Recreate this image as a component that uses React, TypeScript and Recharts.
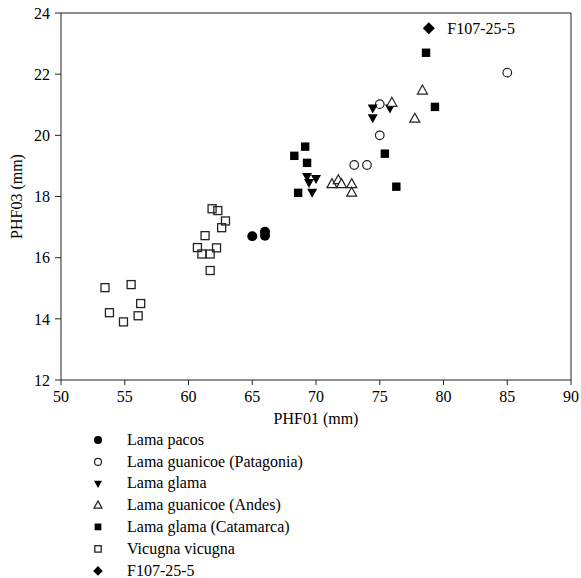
import { ScatterChart, Scatter, XAxis, YAxis, ReferenceLine, Legend, LabelList } from 'recharts';

// values (PHF01 mm, PHF03 mm)
const lamaPacos = [
  { x: 65.0, y: 16.7 },
  { x: 66.0, y: 16.85 },
  { x: 66.0, y: 16.72 },
];
const guanicoePatagonia = [
  { x: 75.0, y: 20.0 },
  { x: 73.0, y: 19.03 },
  { x: 74.0, y: 19.03 },
  { x: 75.0, y: 21.02 },
  { x: 85.0, y: 22.05 },
];
const lamaGlama = [
  { x: 69.3, y: 18.64 },
  { x: 70.0, y: 18.57 },
  { x: 69.45, y: 18.44 },
  { x: 69.7, y: 18.12 },
  { x: 74.45, y: 20.88 },
  { x: 74.45, y: 20.56 },
  { x: 75.8, y: 20.88 },
];
const guanicoeAndes = [
  { x: 71.25, y: 18.42 },
  { x: 71.75, y: 18.55 },
  { x: 72.0, y: 18.42 },
  { x: 72.8, y: 18.42 },
  { x: 72.8, y: 18.14 },
  { x: 75.95, y: 21.08 },
  { x: 78.35, y: 21.48 },
  { x: 77.75, y: 20.56 },
];
const glamaCatamarca = [
  { x: 69.15, y: 19.63 },
  { x: 68.3, y: 19.33 },
  { x: 69.3, y: 19.1 },
  { x: 68.6, y: 18.12 },
  { x: 75.4, y: 19.4 },
  { x: 76.3, y: 18.32 },
  { x: 78.63, y: 22.7 },
  { x: 79.33, y: 20.93 },
];
const vicugna = [
  { x: 61.85, y: 17.6 },
  { x: 62.3, y: 17.54 },
  { x: 62.9, y: 17.2 },
  { x: 62.6, y: 16.98 },
  { x: 61.3, y: 16.72 },
  { x: 60.7, y: 16.33 },
  { x: 61.05, y: 16.12 },
  { x: 61.7, y: 16.12 },
  { x: 62.2, y: 16.32 },
  { x: 61.7, y: 15.58 },
  { x: 53.45, y: 15.02 },
  { x: 55.5, y: 15.12 },
  { x: 56.25, y: 14.5 },
  { x: 53.8, y: 14.2 },
  { x: 54.9, y: 13.9 },
  { x: 56.05, y: 14.1 },
];
const f107 = [{ x: 78.85, y: 23.5, label: 'F107-25-5' }];

const xTicks = [50, 55, 60, 65, 70, 75, 80, 85, 90];
const yTicks = [12, 14, 16, 18, 20, 22, 24];

const FONT = '"Liberation Serif", "Times New Roman", serif';
const INK = '#222';

type Kind = 'dot' | 'ring' | 'down' | 'up' | 'box' | 'openbox' | 'diamond';

const Marker = ({ kind, cx, cy, k = 1 }: { kind: Kind; cx: number; cy: number; k?: number }) => {
  switch (kind) {
    case 'dot':
      return <circle cx={cx} cy={cy} r={5 * k} fill="#000" />;
    case 'ring':
      return <circle cx={cx} cy={cy} r={4.3 * k} fill="#fff" stroke={INK} strokeWidth={1.2} />;
    case 'down':
      return <path d={`M${cx - 5 * k},${cy - 4 * k} L${cx + 5 * k},${cy - 4 * k} L${cx},${cy + 5 * k} Z`} fill="#000" />;
    case 'up':
      return (
        <path
          d={`M${cx},${cy - 5 * k} L${cx + 5 * k},${cy + 4 * k} L${cx - 5 * k},${cy + 4 * k} Z`}
          fill="#fff"
          stroke={INK}
          strokeWidth={1.2}
        />
      );
    case 'box':
      return <rect x={cx - 4.2 * k} y={cy - 4.2 * k} width={8.4 * k} height={8.4 * k} fill="#000" />;
    case 'openbox':
      return (
        <rect x={cx - 4 * k} y={cy - 4 * k} width={8 * k} height={8 * k} fill="#fff" fillOpacity={0} stroke={INK} strokeWidth={1.3} />
      );
    case 'diamond':
      return <path d={`M${cx},${cy - 6 * k} L${cx + 6 * k},${cy} L${cx},${cy + 6 * k} L${cx - 6 * k},${cy} Z`} fill="#000" />;
  }
  return null;
};

const shapeOf = (kind: Kind) => (props: any) => <Marker kind={kind} cx={props.cx} cy={props.cy} />;

const series: { name: string; data: any[]; kind: Kind }[] = [
  { name: 'Lama pacos', data: lamaPacos, kind: 'dot' },
  { name: 'Lama guanicoe (Patagonia)', data: guanicoePatagonia, kind: 'ring' },
  { name: 'Lama glama', data: lamaGlama, kind: 'down' },
  { name: 'Lama guanicoe (Andes)', data: guanicoeAndes, kind: 'up' },
  { name: 'Lama glama (Catamarca)', data: glamaCatamarca, kind: 'box' },
  { name: 'Vicugna vicugna', data: vicugna, kind: 'openbox' },
  { name: 'F107-25-5', data: f107, kind: 'diamond' },
];

const renderLegend = () => (
  <div style={{ fontFamily: FONT, fontSize: 16, color: '#000' }}>
    {series.map((s) => (
      <div key={s.name} style={{ display: 'flex', alignItems: 'center', height: 21.8 }}>
        <svg width={110} height={21.8} style={{ flex: 'none' }}>
          <Marker kind={s.kind} cx={98} cy={10.9} k={0.8} />
        </svg>
        <span style={{ marginLeft: 17 }}>{s.name}</span>
      </div>
    ))}
  </div>
);

const tickStyle = { fontFamily: FONT, fontSize: 16, fill: '#000' };

export default function App() {
  return (
    <div style={{ position: 'absolute', left: 0, top: 0, width: 581, height: 578, background: '#fff' }}>
      <ScatterChart width={581} height={578} margin={{ top: 13, right: 10, bottom: 168, left: 0 }}>
        <XAxis
          type="number"
          dataKey="x"
          domain={[50, 90]}
          ticks={xTicks}
          interval={0}
          allowDataOverflow
          height={30}
          stroke={INK}
          tickSize={5}
          tickMargin={6}
          tick={tickStyle}
          label={{ value: 'PHF01 (mm)', position: 'insideBottom', offset: -14, style: tickStyle }}
        />
        <YAxis
          type="number"
          dataKey="y"
          domain={[12, 24]}
          ticks={yTicks}
          interval={0}
          allowDataOverflow
          width={61}
          stroke={INK}
          tickSize={6}
          tickMargin={5}
          tick={tickStyle}
          label={{ value: 'PHF03 (mm)', angle: -90, position: 'insideLeft', offset: 16, style: { ...tickStyle, textAnchor: 'middle' } }}
        />
        <ReferenceLine y={24} stroke={INK} />
        <ReferenceLine x={90} stroke={INK} />
        <Legend
          layout="horizontal"
          verticalAlign="middle"
          align="center"
          content={renderLegend}
          wrapperStyle={{ position: 'absolute', top: 429, left: 0, width: 320 }}
        />
        {series.map((s) => (
          <Scatter key={s.name} name={s.name} data={s.data} shape={shapeOf(s.kind)} isAnimationActive={false}>
            {s.kind === 'diamond' && (
              <LabelList dataKey="label" position="right" offset={14} style={{ ...tickStyle }} />
            )}
          </Scatter>
        ))}
      </ScatterChart>
    </div>
  );
}
